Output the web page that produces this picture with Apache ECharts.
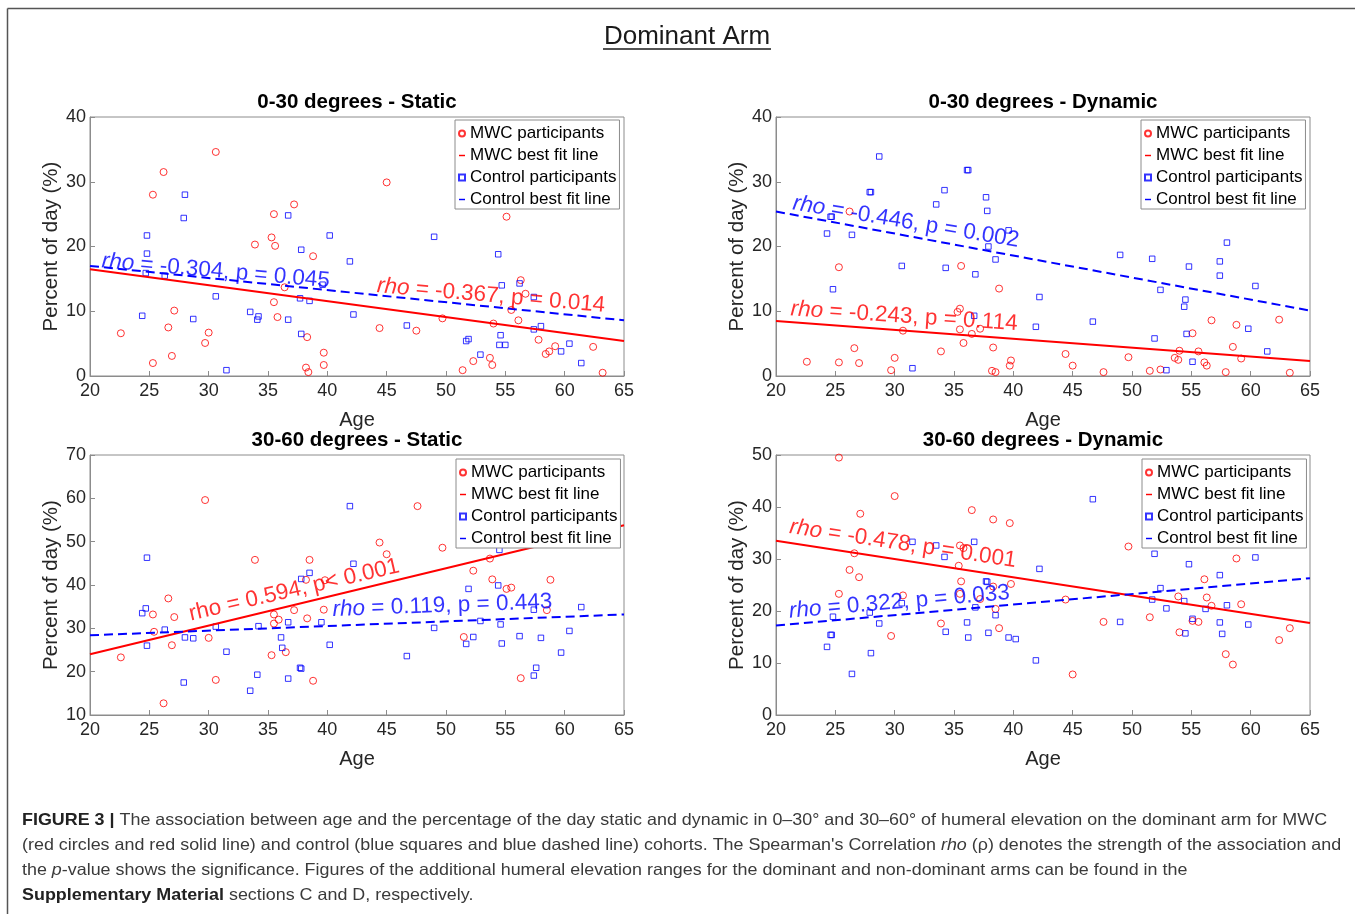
<!DOCTYPE html>
<html>
<head>
<meta charset="utf-8">
<title>Dominant Arm</title>
<script src="https://cdn.jsdelivr.net/npm/echarts@6/dist/echarts.min.js"></script>
<style>
  html, body { margin: 0; padding: 0; background: #fff; }
  #chart { width: 1355px; height: 914px; }
</style>
</head>
<body>
<div id="chart"></div>
<script>
// ---- data (age, percent of day) ----
const fitX = [20, 65]

// 0-30 degrees - Static
const tlMwc = [[22.6,6.6],[25.3,2.0],[25.3,28.0],[26.2,31.5],[26.6,7.5],[26.9,3.1],[27.1,10.1],[29.7,5.1],[30.0,6.7],[30.6,34.6],[33.9,20.3],[35.3,21.4],[35.6,20.1],[35.5,25.0],[37.2,26.5],[36.4,13.7],[35.5,11.4],[35.8,9.1],[38.8,18.5],[38.3,6.0],[38.2,1.3],[38.4,0.6],[39.7,3.6],[39.7,1.7],[45.0,29.9],[44.4,7.4],[47.5,7.0],[49.7,8.9],[54.0,8.1],[55.1,24.6],[56.3,14.8],[56.7,12.7],[55.5,10.2],[56.1,8.6],[57.8,5.6],[59.2,4.6],[58.7,3.8],[58.4,3.4],[62.4,4.5],[63.2,0.5],[51.4,0.9],[52.3,2.3],[53.7,2.8],[53.9,1.7]]
const tlCtrl = [[24.8,21.7],[24.8,18.9],[24.7,15.9],[26.3,15.5],[24.4,9.3],[28.0,28.0],[27.9,24.4],[30.6,12.3],[28.7,8.8],[31.5,0.9],[33.5,9.9],[34.2,9.2],[34.1,8.7],[36.7,24.8],[37.8,19.5],[37.7,12.0],[38.5,11.6],[36.7,8.7],[37.8,6.5],[39.6,14.1],[40.2,21.7],[41.9,17.7],[42.2,9.5],[49.0,21.5],[46.7,7.8],[54.4,18.8],[54.7,14.0],[56.2,14.3],[57.4,12.2],[58.0,7.7],[57.4,7.2],[54.6,6.3],[54.5,4.8],[55.0,4.8],[51.7,5.4],[51.9,5.7],[52.9,3.3],[59.7,3.8],[60.4,5.0],[61.4,2.0]]
const tlFitMwc = [16.5, 5.4]
const tlFitCtrl = [17.0, 8.6]

// 0-30 degrees - Dynamic
const trMwc = [[22.6,2.2],[25.3,2.1],[26.2,25.4],[25.3,16.8],[26.6,4.3],[27.0,2.0],[30.0,2.8],[29.7,0.9],[30.7,7.0],[33.9,3.8],[35.6,17.0],[35.5,10.4],[35.3,9.9],[35.5,7.2],[35.8,5.1],[36.5,6.5],[37.2,7.3],[38.8,13.5],[38.3,4.4],[38.2,0.8],[38.5,0.6],[39.8,2.4],[39.7,1.6],[44.4,3.4],[45.0,1.6],[47.6,0.6],[49.7,2.9],[51.5,0.8],[52.4,1.0],[53.6,2.8],[53.9,2.5],[54.0,3.9],[55.1,6.6],[55.6,3.8],[56.1,2.1],[56.3,1.6],[56.7,8.6],[57.9,0.6],[58.5,4.5],[58.8,7.9],[59.2,2.7],[62.4,8.7],[63.3,0.5]]
const trCtrl = [[28.7,33.9],[27.9,28.4],[28.0,28.4],[24.7,24.6],[24.6,24.6],[24.3,22.0],[26.4,21.8],[24.8,13.4],[30.6,17.0],[31.5,1.2],[33.5,26.5],[34.2,28.7],[34.3,16.7],[36.1,31.8],[36.2,31.8],[36.8,15.7],[36.7,9.3],[37.7,27.6],[37.8,25.5],[37.9,20.0],[38.5,18.0],[39.6,22.5],[41.9,7.6],[42.2,12.2],[46.7,8.4],[49.0,18.7],[51.7,18.1],[51.9,5.8],[52.4,13.3],[52.9,0.9],[54.5,11.8],[54.4,10.7],[54.6,6.5],[54.8,16.9],[55.1,2.2],[57.4,17.7],[57.4,15.5],[58.0,20.6],[59.8,7.3],[60.4,13.9],[61.4,3.8]]
const trFitMwc = [8.5, 2.3]
const trFitCtrl = [25.4, 10.1]

// 30-60 degrees - Static
const blMwc = [[29.7,59.6],[33.9,45.8],[38.5,45.8],[38.2,41.2],[39.8,41.1],[26.6,36.9],[25.3,33.2],[27.1,32.6],[25.4,29.2],[26.9,26.1],[30.0,27.8],[22.6,23.3],[26.2,12.7],[30.6,18.1],[35.5,33.2],[35.5,31.1],[35.9,32.0],[37.2,34.2],[38.3,32.3],[39.7,34.3],[35.3,23.8],[36.5,24.5],[38.8,17.9],[47.6,58.2],[44.4,49.8],[45.0,47.1],[49.7,48.6],[53.7,46.1],[52.3,43.3],[53.9,41.3],[55.1,39.1],[55.5,39.4],[58.8,41.2],[58.5,34.2],[51.5,28.0],[56.3,18.5]]
const blCtrl = [[24.8,46.3],[41.9,58.2],[42.2,44.9],[38.5,42.8],[37.8,41.4],[24.4,33.5],[24.7,34.6],[26.3,29.7],[24.8,26.0],[28.0,27.9],[28.7,27.7],[30.6,30.4],[31.5,24.6],[27.9,17.5],[33.5,15.6],[34.1,19.3],[34.2,30.5],[36.7,31.4],[36.1,27.9],[36.2,25.5],[37.7,20.9],[37.8,20.7],[36.7,18.4],[39.5,31.4],[40.2,26.2],[54.5,48.1],[51.9,39.1],[54.4,39.9],[57.4,34.3],[61.4,34.9],[49.0,30.1],[52.9,31.7],[54.6,30.9],[52.3,28.0],[51.7,26.4],[54.7,26.5],[56.2,28.2],[58.0,27.8],[60.4,29.4],[59.7,24.4],[46.7,23.6],[57.6,20.9],[57.4,19.1]]
const blFitMwc = [24.0, 53.8]
const blFitCtrl = [28.4, 33.2]

// 30-60 degrees - Dynamic
const brMwc = [[25.3,49.5],[30.0,42.1],[27.1,38.7],[36.5,39.4],[38.3,37.6],[39.7,36.9],[26.6,31.1],[26.2,27.9],[27.0,26.5],[25.3,23.3],[30.7,23.0],[35.5,32.6],[35.8,32.1],[35.4,28.7],[35.6,25.7],[35.5,23.3],[37.2,22.3],[38.3,24.7],[38.5,20.4],[39.8,25.2],[38.8,16.7],[33.9,17.6],[29.7,15.2],[49.7,32.4],[44.4,22.2],[47.6,17.9],[45.0,7.8],[51.5,18.8],[53.9,22.8],[54.0,15.9],[55.1,18.1],[55.6,17.9],[56.1,26.1],[56.3,22.6],[56.7,21.0],[58.8,30.1],[59.2,21.3],[57.9,11.7],[58.5,9.7],[62.4,14.4],[63.3,16.7]]
const brCtrl = [[31.5,33.3],[33.5,32.6],[34.2,30.4],[36.7,33.3],[37.7,25.7],[37.8,25.6],[42.2,28.1],[30.6,21.5],[27.9,19.7],[28.7,17.6],[24.8,18.9],[24.7,15.4],[24.6,15.4],[24.3,13.1],[28.0,11.9],[26.4,7.9],[34.3,16.0],[36.1,17.8],[36.2,14.9],[36.8,20.7],[37.9,15.8],[38.5,19.2],[39.6,14.9],[40.2,14.6],[41.9,10.5],[46.7,41.5],[51.9,31.0],[54.8,29.0],[60.4,30.3],[57.4,26.9],[52.4,24.4],[51.7,22.2],[54.4,21.9],[52.9,20.5],[56.2,20.4],[58.0,21.1],[49.0,17.9],[55.1,18.5],[57.4,17.8],[54.5,15.7],[57.6,15.6],[59.8,17.4]]
const brFitMwc = [33.5, 17.7]
const brFitCtrl = [17.2, 26.3]

// correlation labels: [age, value] anchor (text centre), text
const tlNotes = [
  { at: [30.6, 16.2], text: '{i|rho} = -0.304, p = 0.045', ctrl: true },
  { at: [53.8, 12.4], text: '{i|rho} = -0.367, p = 0.014', ctrl: false }
]
const trNotes = [
  { at: [30.95, 23.8], text: '{i|rho} = -0.446, p = 0.002', ctrl: true },
  { at: [30.8, 9.2], text: '{i|rho} = -0.243, p = 0.114', ctrl: false }
]
const blNotes = [
  { at: [37.2, 38.8], text: 'rho = 0.594, p< 0.001', ctrl: false },
  { at: [49.7, 35.2], text: '{i|rho} = 0.119, p = 0.443', ctrl: true }
]
const brNotes = [
  { at: [30.7, 32.9], text: '{i|rho} = -0.478, p = 0.001', ctrl: false },
  { at: [30.4, 21.7], text: '{i|rho} = 0.322, p = 0.033', ctrl: true }
]

const legendNames = ['MWC participants', 'MWC best fit line', 'Control participants', 'Control best fit line']

// ---- styling / layout ----
const FONT = '"Liberation Sans", Arial, Helvetica, sans-serif'
const RED = '#ff0000'
const BLUE = '#0000ff'
const BOX = '#8c8c8c'
const INK = '#262626'
const NOTE = 22.5

const panels = [
  { title: '0-30 degrees - Static', left: 90, top: 117, height: 259, yMin: 0, yMax: 40,
    mwc: tlMwc, ctrl: tlCtrl, fitM: tlFitMwc, fitC: tlFitCtrl, notes: tlNotes, rot: [-5, -5], legend: [455, 120] },
  { title: '0-30 degrees - Dynamic', left: 776, top: 117, height: 259, yMin: 0, yMax: 40,
    mwc: trMwc, ctrl: trCtrl, fitM: trFitMwc, fitC: trFitCtrl, notes: trNotes, rot: [-9.5, -3.8], legend: [1141, 120] },
  { title: '30-60 degrees - Static', left: 90, top: 455, height: 260, yMin: 10, yMax: 70,
    mwc: blMwc, ctrl: blCtrl, fitM: blFitMwc, fitC: blFitCtrl, notes: blNotes, rot: [13, 2], legend: [456, 459] },
  { title: '30-60 degrees - Dynamic', left: 776, top: 455, height: 260, yMin: 0, yMax: 50,
    mwc: brMwc, ctrl: brCtrl, fitM: brFitMwc, fitC: brFitCtrl, notes: brNotes, rot: [-8.6, 4.8], legend: [1142, 459] }
]

const chart = echarts.init(document.getElementById('chart'), null, { renderer: 'canvas' })

const grid = [], xAxis = [], yAxis = [], series = [], legend = []
const title = [{
  text: 'Dominant Arm', left: 687, top: 24, textAlign: 'center', padding: 0,
  textStyle: { fontSize: 26, fontWeight: 'normal', color: '#1a1a1a', fontFamily: FONT }
}]

panels.forEach((p, i) => {
  grid.push({ left: p.left, top: p.top, width: 534, height: p.height, show: true,
    borderColor: BOX, borderWidth: 1, backgroundColor: 'transparent' })

  title.push({ text: p.title, left: p.left + 267, top: p.top - 25, textAlign: 'center', padding: 0,
    textStyle: { fontSize: 20.5, fontWeight: 'bold', color: '#000', fontFamily: FONT } })

  xAxis.push({
    gridIndex: i, type: 'value', min: 20, max: 65, interval: 5,
    name: 'Age', nameLocation: 'middle', nameGap: 34,
    nameTextStyle: { fontSize: 20, color: INK, fontFamily: FONT },
    axisLine: { show: true, lineStyle: { color: BOX, width: 1 } },
    axisTick: { show: true, inside: true, length: 5, lineStyle: { color: BOX } },
    axisLabel: { fontSize: 18, color: INK, margin: 6, fontFamily: FONT },
    splitLine: { show: false }
  })
  yAxis.push({
    gridIndex: i, type: 'value', min: p.yMin, max: p.yMax, interval: 10,
    name: 'Percent of day (%)', nameLocation: 'middle', nameGap: 26,
    nameTextStyle: { fontSize: 20.5, color: INK, fontFamily: FONT },
    axisLine: { show: true, lineStyle: { color: BOX, width: 1 } },
    axisTick: { show: true, inside: true, length: 5, lineStyle: { color: BOX } },
    axisLabel: { fontSize: 18, color: INK, margin: 4, fontFamily: FONT },
    splitLine: { show: false }
  })

  series.push({
    type: 'scatter', name: 'MWC participants', xAxisIndex: i, yAxisIndex: i,
    symbol: 'circle', symbolSize: 7, silent: true,
    itemStyle: { color: 'rgba(255,255,255,0)', borderColor: RED, borderWidth: 1 },
    data: p.mwc
  })
  series.push({
    type: 'scatter', name: 'Control participants', xAxisIndex: i, yAxisIndex: i,
    symbol: 'rect', symbolSize: 5.5, silent: true,
    itemStyle: { color: 'rgba(255,255,255,0)', borderColor: BLUE, borderWidth: 1 },
    data: p.ctrl
  })
  series.push({
    type: 'line', name: 'MWC best fit line', xAxisIndex: i, yAxisIndex: i,
    symbol: 'none', silent: true, z: 3,
    itemStyle: { color: RED }, lineStyle: { color: RED, width: 2 },
    data: fitX.map((x, k) => [x, p.fitM[k]])
  })
  series.push({
    type: 'line', name: 'Control best fit line', xAxisIndex: i, yAxisIndex: i,
    symbol: 'none', silent: true, z: 3,
    itemStyle: { color: BLUE }, lineStyle: { color: BLUE, width: 2, type: [9, 5] },
    data: fitX.map((x, k) => [x, p.fitC[k]])
  })
  // rho / p annotations
  series.push({
    type: 'scatter', name: 'notes', xAxisIndex: i, yAxisIndex: i,
    symbolSize: 0, silent: true, z: 4,
    data: p.notes.map((n, k) => {
      const c = n.ctrl ? BLUE : RED
      return {
        value: n.at,
        label: {
          show: true, position: 'inside', rotate: p.rot[k],
          formatter: n.text, color: c, fontSize: NOTE, fontFamily: FONT,
          rich: { i: { fontStyle: 'italic', color: c, fontSize: NOTE, fontFamily: FONT } }
        }
      }
    })
  })

  const lineIcon = 'path://M0,0H10V2.4H0Z'
  legend.push({
    left: p.legend[0], top: p.legend[1], orient: 'vertical',
    padding: [5, 3, 1, 3], itemGap: 5, itemWidth: 6, itemHeight: 6,
    borderColor: BOX, borderWidth: 1, backgroundColor: '#fff',
    selectedMode: false,
    textStyle: { fontSize: 17, color: '#000', fontFamily: FONT },
    data: [
      { name: legendNames[0], icon: 'emptyCircle', itemStyle: { color: RED, borderColor: RED, borderWidth: 1 } },
      { name: legendNames[1], icon: lineIcon, itemStyle: { color: RED, borderWidth: 0 } },
      { name: legendNames[2], icon: 'emptyRect', itemStyle: { color: BLUE, borderColor: BLUE, borderWidth: 1 } },
      { name: legendNames[3], icon: lineIcon, itemStyle: { color: BLUE, borderWidth: 0 } }
    ]
  })
})

// caption below the figure
const captionLines = [
  '{b|FIGURE 3 |} The association between age and the percentage of the day static and dynamic in 0–30° and 30–60° of humeral elevation on the dominant arm for MWC',
  '(red circles and red solid line) and control (blue squares and blue dashed line) cohorts. The Spearman\'s Correlation {i|rho} (ρ) denotes the strength of the association and',
  'the {i|p}-value shows the significance. Figures of the additional humeral elevation ranges for the dominant and non-dominant arms can be found in the',
  '{b|Supplementary Material} sections C and D, respectively.'
]
const CAP = 16.5
const graphic = [
  { type: 'line', shape: { x1: 7.5, y1: 8.5, x2: 1355, y2: 8.5 }, style: { stroke: '#555', lineWidth: 1.5 } },
  { type: 'line', shape: { x1: 7.5, y1: 8.5, x2: 7.5, y2: 914 }, style: { stroke: '#555', lineWidth: 1.5 } },
  { type: 'line', shape: { x1: 603, y1: 49, x2: 771, y2: 49 }, style: { stroke: '#1a1a1a', lineWidth: 1.5 } }
]
captionLines.forEach((t, k) => {
  graphic.push({
    type: 'text', x: 22, y: 820 + k * 25.3, scaleX: 1.085, silent: true,
    style: {
      text: t, fill: '#3a3a3a', fontSize: CAP, fontFamily: FONT, verticalAlign: 'middle',
      rich: {
        b: { fontWeight: 'bold', fill: '#222', fontSize: CAP, fontFamily: FONT },
        i: { fontStyle: 'italic', fill: '#3a3a3a', fontSize: CAP, fontFamily: FONT }
      }
    }
  })
})

const option = {
  animation: false,
  backgroundColor: '#fff',
  title, grid, xAxis, yAxis, legend, series, graphic,
  tooltip: { show: false }
}

chart.setOption(option)
window.addEventListener('resize', () => chart.resize())
</script>
</body>
</html>
